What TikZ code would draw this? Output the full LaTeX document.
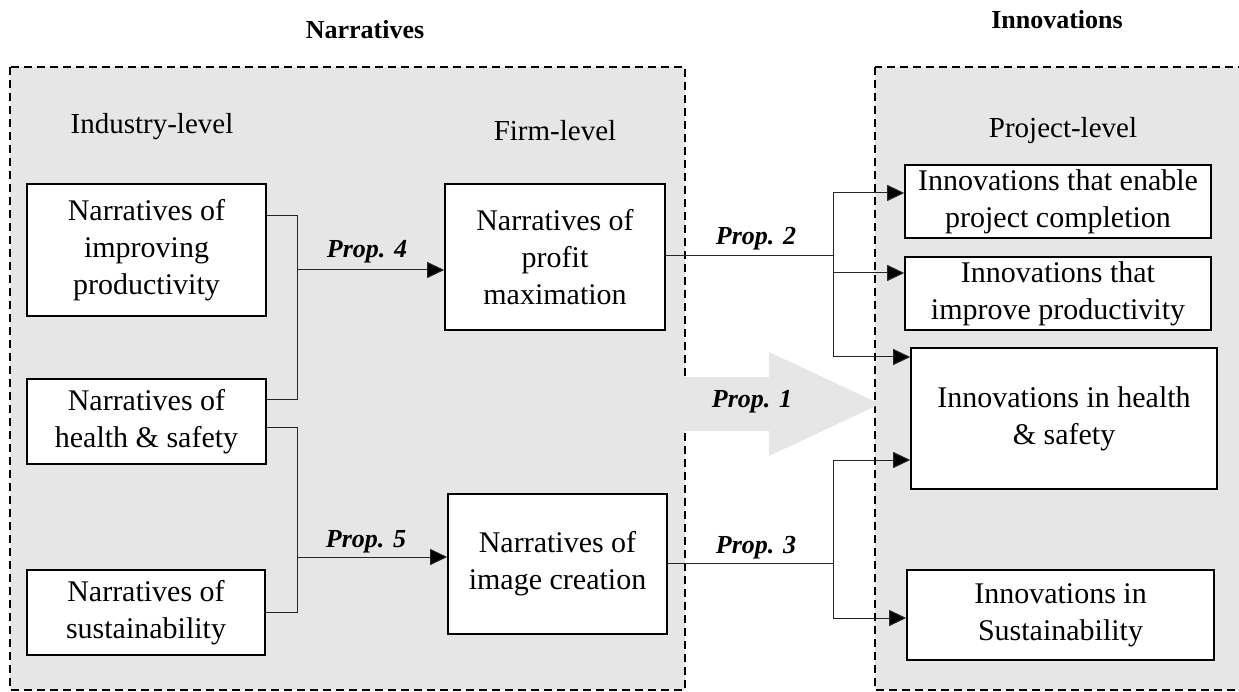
\documentclass[tikz,border=0pt]{standalone}
\usepackage{fontspec}
\setmainfont{Liberation Serif}
\usetikzlibrary{arrows.meta}
\definecolor{panelgray}{RGB}{230,230,230}
\tikzset{
  px/.style={x=1pt,y=-1pt},
  panel/.style={draw=black,fill=panelgray,line width=1.4pt,dash pattern=on 8pt off 5pt},
  nbox/.style={draw=black,fill=white,line width=1.6pt,align=center,inner sep=0pt,
    font=\fontsize{30}{37}\selectfont},
  lvl/.style={font=\fontsize{29}{34}\selectfont,inner sep=0pt},
  ttl/.style={font=\fontsize{26}{30}\selectfont\bfseries,inner sep=0pt},
  prop/.style={font=\fontsize{26}{30}\selectfont\bfseries\itshape,inner sep=0pt},
  conn/.style={draw=black!85,line width=1pt},
  arr/.style={conn,-{Triangle[length=17pt,width=16pt,fill=black]}},
}
\begin{document}
\begin{tikzpicture}[px]
\useasboundingbox (0,0) rectangle (1239,692);
\clip (0,0) rectangle (1239,692);
% panels
\draw[panel] (10,67) rectangle (685,690);
\draw[panel] (875,67) rectangle (1250,690);
% big arrow
\fill[panelgray] (684,377) -- (769,377) -- (769,352) -- (880,404) -- (769,456) -- (769,431) -- (684,431) -- cycle;
\node[prop] (p1) at (752,402) {Prop. 1};
% titles
\node[ttl] (tn) at (365,30) {Narratives};
\node[ttl] (ti) at (1057,20) {Innovations};
\node[lvl] (li) at (152,127) {Industry-level};
\node[lvl] (lf) at (555,131) {Firm-level};
\node[lvl] (lp) at (1063,131) {Project-level};
% boxes
\node[nbox,minimum width=239pt,minimum height=132pt] (A) at (146.5,250) {Narratives of\\improving\\productivity};
\node[nbox,minimum width=239pt,minimum height=85pt] (B) at (146.5,421.5) {Narratives of\\health \& safety};
\node[nbox,minimum width=238pt,minimum height=85pt] (C) at (146,612.5) {Narratives of\\sustainability};
\node[nbox,minimum width=220pt,minimum height=146pt] (D) at (555,257) {Narratives of\\profit\\maximation};
\node[nbox,minimum width=219pt,minimum height=140pt] (E) at (557.5,564) {Narratives of\\image creation};
\node[nbox,minimum width=306pt,minimum height=73pt] (F) at (1058,201.5) {Innovations that enable\\project completion};
\node[nbox,minimum width=306pt,minimum height=73pt] (G) at (1058,293.5) {Innovations that\\improve productivity};
\node[nbox,minimum width=306pt,minimum height=141pt] (H) at (1064,418.5) {Innovations in health\\\& safety};
\node[nbox,minimum width=307pt,minimum height=90pt] (I) at (1060.5,615) {Innovations in\\Sustainability};
% junction coordinates
\coordinate (a1) at (297,216);
\coordinate (a2) at (297,399);
\coordinate (a3) at (297,270);
\coordinate (b1) at (297,427);
\coordinate (b2) at (297,612);
\coordinate (b3) at (297,557);
\coordinate (d1) at (833,256);
\coordinate (d2) at (833,193);
\coordinate (d3) at (833,273);
\coordinate (d4) at (833,357);
\coordinate (e1) at (833,563);
\coordinate (e2) at (833,460);
\coordinate (e3) at (833,618);
% left brackets
\draw[conn] (A.east |- a1) -- (a1) -- (a2) -- (B.east |- a2);
\draw[arr] (a3) -- (D.west |- a3);
\node[prop] (p4) at (367,252) {Prop. 4};
\draw[conn] (B.east |- b1) -- (b1) -- (b2) -- (C.east |- b2);
\draw[arr] (b3) -- (E.west |- b3);
\node[prop] (p5) at (366,542) {Prop. 5};
% right fans
\draw[conn] (D.east |- d1) -- (d1);
\draw[conn] (d2) -- (d4);
\draw[arr] (d2) -- (F.west |- d2);
\draw[arr] (d3) -- (G.west |- d3);
\draw[arr] (d4) -- (H.west |- d4);
\node[prop] (p2) at (756,239) {Prop. 2};
\draw[conn] (E.east |- e1) -- (e1);
\draw[conn] (e2) -- (e3);
\draw[arr] (e2) -- (H.west |- e2);
\draw[arr] (e3) -- (I.west |- e3);
\node[prop] (p3) at (756,548) {Prop. 3};
\end{tikzpicture}
\end{document}
